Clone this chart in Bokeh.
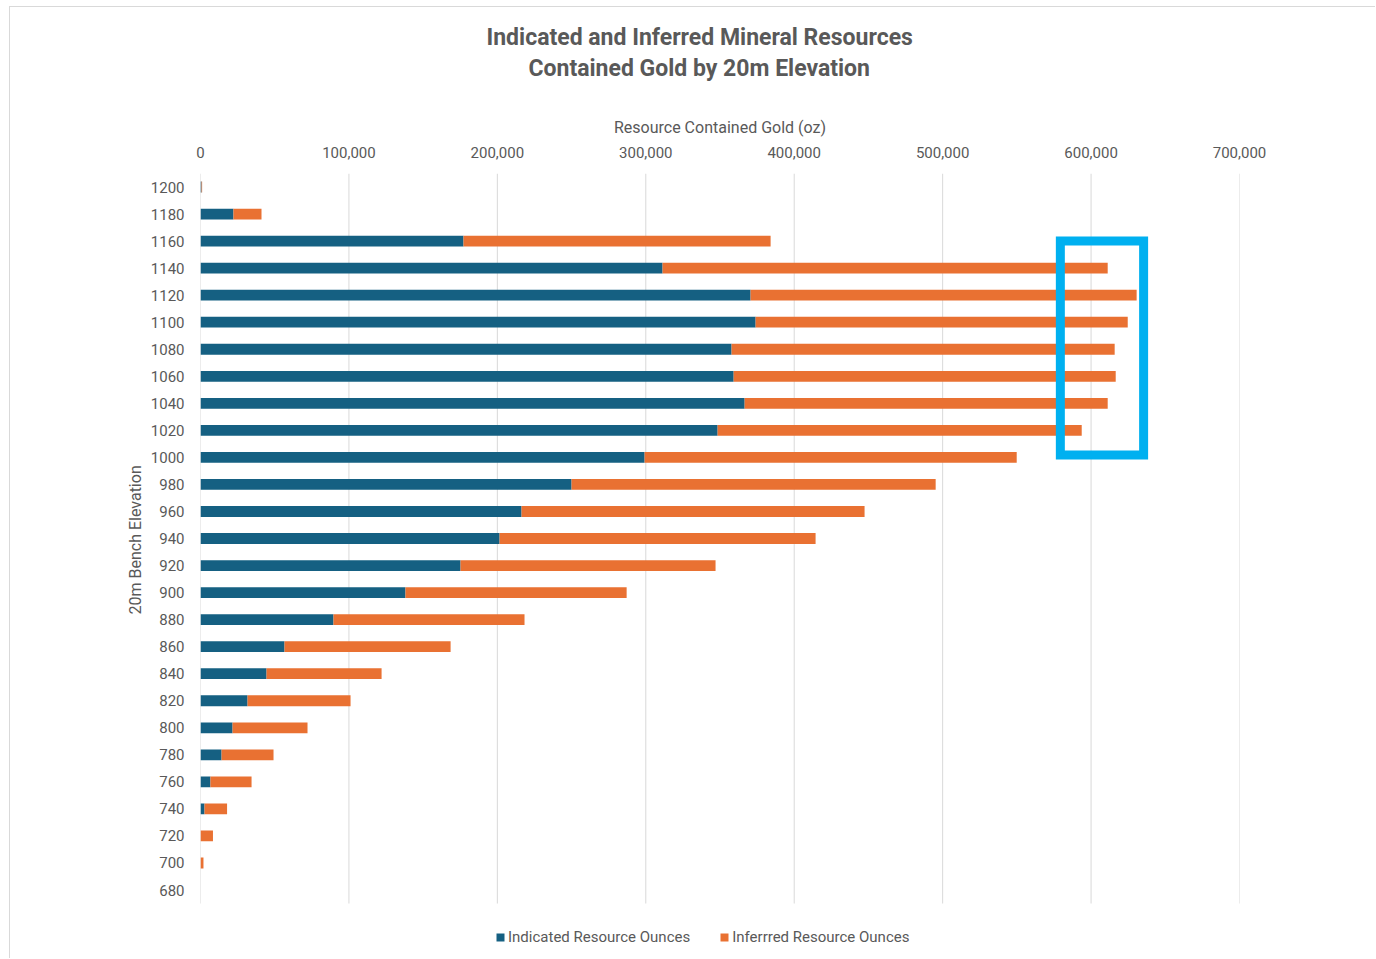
from bokeh.plotting import figure
from bokeh.embed import file_html
from bokeh.resources import INLINE
from bokeh.models import (ColumnDataSource, FixedTicker, NumeralTickFormatter, LinearAxis,
                          Legend, LegendItem, Title, BoxAnnotation, Range1d, Spacer)
from bokeh.layouts import column, row

# ---- data ----
elevations = [1200, 1180, 1160, 1140, 1120, 1100, 1080, 1060, 1040, 1020, 1000,
              980, 960, 940, 920, 900, 880, 860, 840, 820, 800, 780, 760, 740, 720, 700, 680]
indicated = [700, 22200, 177200, 311300, 370600, 374000, 357800, 359200, 366600, 348400, 299200,
             250000, 216300, 201500, 175200, 138100, 89600, 56600, 44500, 31700, 21600, 14200, 6700, 2700, 0, 0, 0]
totals = [1100, 41100, 384100, 611200, 630700, 624700, 615900, 616600, 611200, 593700, 549900,
          495300, 447400, 414400, 347000, 287100, 218300, 168500, 122000, 101100, 72100, 49200, 34400, 17900, 8400, 2000, 0]
inferred = [t - i for t, i in zip(totals, indicated)]
x_ticks = [0, 100000, 200000, 300000, 400000, 500000, 600000, 700000]

series_names = ["Indicated Resource Ounces", "Inferrred Resource Ounces"]
title_lines = ["Indicated and Inferred Mineral Resources", "Contained  Gold by 20m Elevation"]
x_label = "Resource Contained Gold (oz)"
y_label = "20m Bench Elevation"

# axis extents (data units)
x_min, x_max = 0, 700000
y_grid_lo, y_top = 670, 1210
y_frame_lo = 628.6          # frame continues below the grid to hold the legend

# highlight box (data units)
box_left, box_right, box_bottom, box_top = 579300, 635400, 1001.7, 1160.1

BLUE = "#156082"
ORANGE = "#E97132"
TXT = "#595959"
GRID = "#d9d9d9"
FONT = "Roboto"

src = ColumnDataSource(dict(
    y=elevations,
    ind=indicated,
    inf_left=indicated,
    inf_right=[i + f for i, f in zip(indicated, inferred)],
    zero=[0] * len(elevations),
))
grid_src = ColumnDataSource(dict(
    x=x_ticks,
    y0=[y_grid_lo] * len(x_ticks),
    y1=[y_top] * len(x_ticks),
))

p = figure(width=1366, height=952, output_backend="svg", toolbar_location=None,
           x_range=Range1d(x_min, x_max), y_range=Range1d(y_frame_lo, y_top),
           x_axis_location=None, y_axis_location=None,
           min_border_left=190, min_border_top=166, min_border_right=137, min_border_bottom=0)
p.outline_line_color = None
p.background_fill_color = "white"
p.border_fill_color = "white"
p.xgrid.grid_line_color = None
p.ygrid.grid_line_color = None
p.styles = {"border-left": "1px solid #d9d9d9", "border-top": "1px solid #d9d9d9"}

# vertical gridlines
p.segment(x0="x", x1="x", y0="y0", y1="y1", source=grid_src, line_color=GRID, line_width=1)

r_ind = p.hbar(y="y", left="zero", right="ind", height=8, source=src,
               fill_color=BLUE, line_color=None)
r_inf = p.hbar(y="y", left="inf_left", right="inf_right", height=8, source=src,
               fill_color=ORANGE, line_color=None)

# top x axis
xa = LinearAxis(ticker=FixedTicker(ticks=x_ticks),
                formatter=NumeralTickFormatter(format="0,0"),
                axis_label=x_label)
xa.axis_line_color = None
xa.major_tick_line_color = None
xa.minor_tick_line_color = None
xa.major_label_text_font = FONT
xa.major_label_text_font_size = "15px"
xa.major_label_text_color = TXT
xa.major_label_standoff = 10
xa.axis_label_text_font = FONT
xa.axis_label_text_font_size = "16px"
xa.axis_label_text_font_style = "normal"
xa.axis_label_text_color = TXT
xa.axis_label_standoff = 7
p.add_layout(xa, "above")

# left y axis (label is a Title so it can sit centred on the gridded area)
ya = LinearAxis(ticker=FixedTicker(ticks=elevations))
ya.axis_line_color = None
ya.major_tick_line_color = None
ya.minor_tick_line_color = None
ya.major_label_text_font = FONT
ya.major_label_text_font_size = "15px"
ya.major_label_text_color = TXT
ya.major_label_standoff = 10
p.add_layout(ya, "left")

ylab = Title(text=y_label, align="left", offset=345, text_font=FONT, text_font_size="16px",
             text_font_style="normal", text_color=TXT, standoff=6)
p.add_layout(ylab, "left")

# spacing between the axis label and the two title lines
gap = Title(text=" ", align="left", text_font=FONT, text_font_size="2px", text_color=TXT,
            standoff=28)
# two title lines, each centred on the chart area
t2 = Title(text=title_lines[1], align="left", offset=328, text_font=FONT, text_font_size="23px",
           text_font_style="bold", text_color=TXT, standoff=2)
t1 = Title(text=title_lines[0], align="left", offset=286, text_font=FONT, text_font_size="23px",
           text_font_style="bold", text_color=TXT, standoff=2)
p.add_layout(gap, "above")
p.add_layout(t2, "above")
p.add_layout(t1, "above")

# highlight box
box = BoxAnnotation(left=box_left, right=box_right, bottom=box_bottom, top=box_top,
                    fill_alpha=0, line_color="#00B0F0", line_alpha=1.0, line_width=9,
                    line_join="miter")
p.add_layout(box)

legend = Legend(items=[LegendItem(label=series_names[0], renderers=[r_ind]),
                       LegendItem(label=series_names[1], renderers=[r_inf])],
                orientation="horizontal", location=(295, 13),
                label_text_font=FONT, label_text_font_size="15px", label_text_color=TXT,
                glyph_width=10, glyph_height=10, label_standoff=3, spacing=29,
                border_line_color=None, background_fill_alpha=0, margin=0, padding=4)
p.add_layout(legend)

layout = column(Spacer(height=6), row(Spacer(width=9), p))
open("out.html", "w").write(file_html(layout, INLINE))
